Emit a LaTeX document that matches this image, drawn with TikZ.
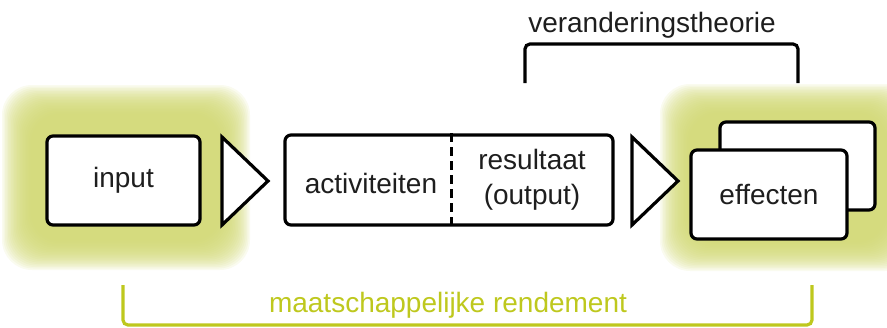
\documentclass[tikz,border=0pt]{standalone}
\usepackage{fontspec}
\setmainfont{Liberation Sans}
\definecolor{gloed}{RGB}{208,215,112}
\definecolor{olijf}{RGB}{190,200,30}
\definecolor{tekst}{RGB}{30,30,30}
\tikzset{
  blok/.style={draw, line width=3.2pt, rounded corners=6pt, fill=white, inner sep=0pt},
  pijl/.style={draw, fill=white, line width=3.2pt, line join=miter},
  haak/.style={line width=3.2pt, rounded corners=5pt},
}

\begin{document}
\begin{tikzpicture}[x=1pt, y=-1pt, font=\fontsize{28}{35}\selectfont, text=tekst]
\useasboundingbox (0,0) rectangle (887,327);
\clip (0,0) rectangle (887,327);
% gloed achter input en effecten
\foreach \i in {0,...,19}{
  \fill[gloed, fill opacity=0.11, rounded corners=30pt] (2+1.5*\i,85+1.5*\i) rectangle (250-1.5*\i,270-1.5*\i);
  \fill[gloed, fill opacity=0.11, rounded corners=30pt] (660+1.5*\i,84+1.5*\i) rectangle (915-1.5*\i,271-1.5*\i);
}

\node[blok, minimum width=153pt, minimum height=89pt] (input) at (123.5,180.5) {input};
\draw[pijl] (222,137) -- (268,181) -- (222,225) -- cycle;

\node[blok, minimum width=328pt, minimum height=90pt] (werk) at (449,180) {};
\coordinate (scheid) at (451,0);
\draw[line width=3pt, dash pattern=on 9pt off 5pt] (werk.north -| scheid) -- (werk.south -| scheid);
\node (activ) at (371,183) {activiteiten};
\node[align=center] (result) at (532,180) {resultaat\\(output)};
\draw[pijl] (632,137) -- (678,181) -- (632,225) -- cycle;

\node[blok, minimum width=155pt, minimum height=88pt] (effect2) at (797.5,166) {};
\node[blok, minimum width=156pt, minimum height=89pt] (effect) at (769,194.5) {effecten};

% haken
\coordinate (theo1) at (525,83);
\coordinate (theo2) at (798,83);
\draw[haak] (theo1) -- ++(0,-39) -| (theo2);
\node (theorie) at (652,25) {veranderingstheorie};

\coordinate (rend1) at (123,285);
\coordinate (rend2) at (812,285);
\draw[haak, olijf] (rend1) -- ++(0,40) -| (rend2);
\node[text=olijf] (rendement) at (448,305) {maatschappelijke rendement};
\end{tikzpicture}
\end{document}
